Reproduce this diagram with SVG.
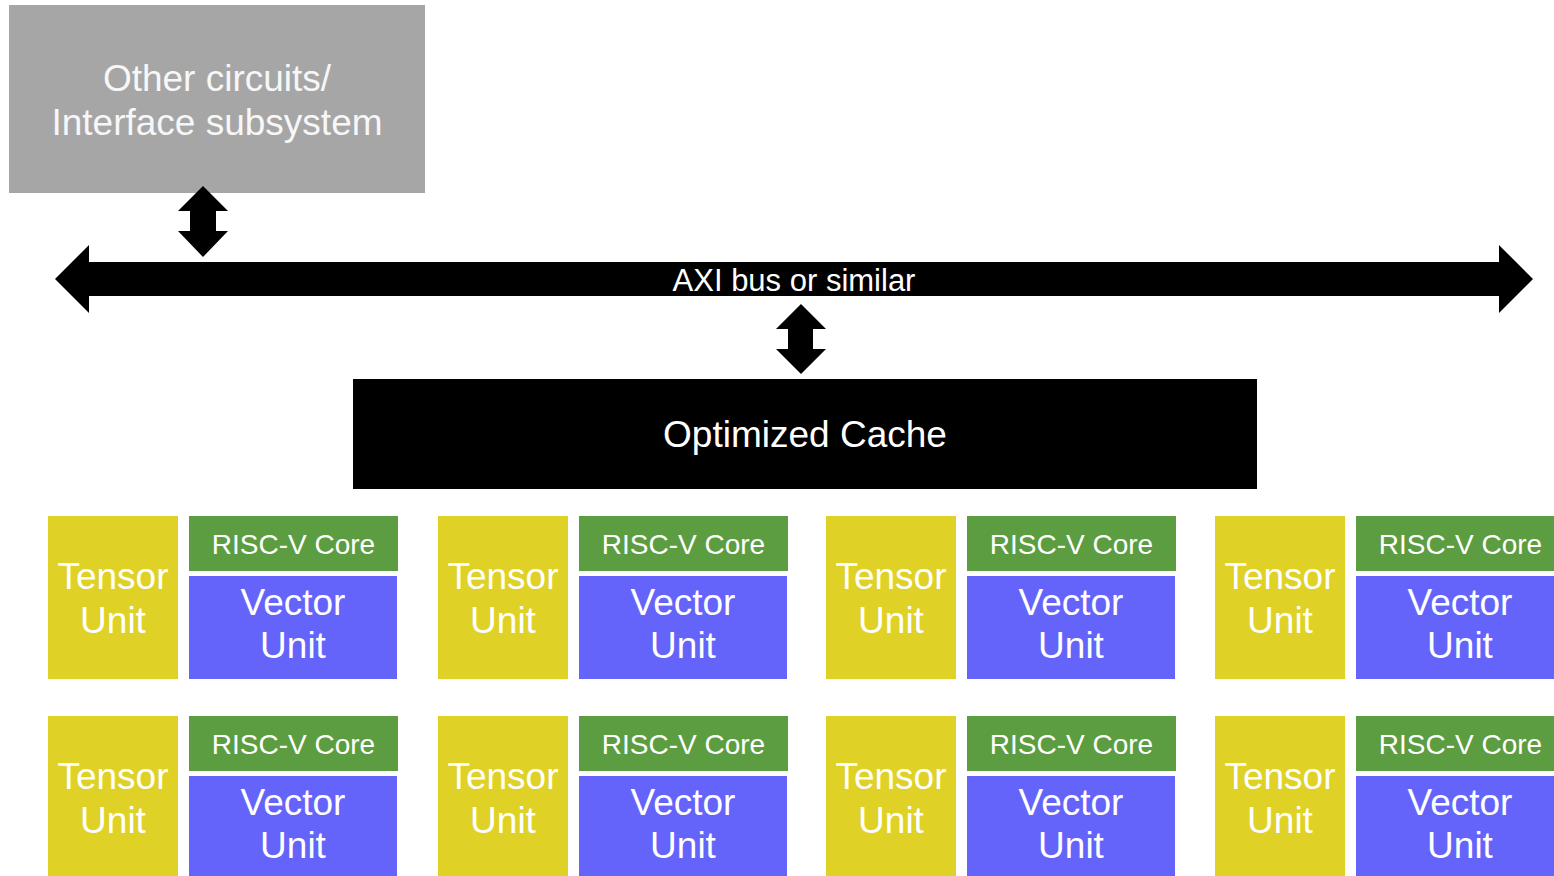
<svg xmlns="http://www.w3.org/2000/svg" width="1554" height="876" viewBox="0 0 1554 876">
  <style>
    text { font-family: "Liberation Sans", Arial, sans-serif; text-anchor: middle; fill: #FFFFFF; }
    .iface { fill: #A6A6A6; }
    .iface-t { fill: #F7F7F7; font-size: 37px; }
    .cache { fill: #000000; }
    .cache-t { font-size: 37px; }
    .bus-t { font-size: 31px; }
    .tensor { fill: #E0D126; }
    .core { fill: #5B9D40; }
    .vector { fill: #6464FB; }
    .big { font-size: 37px; }
    .small { font-size: 28px; }
    .conn { fill: #000000; }
  </style>
  <defs>
    <!-- one compute tile: tensor unit + RISC-V core + vector unit -->
    <g id="tile">
      <rect class="tensor" x="0" y="0" width="130" height="163"/>
      <text class="big" x="65" y="73">Tensor</text>
      <text class="big" x="65" y="117">Unit</text>
      <rect class="core" x="141" y="0" width="209" height="55"/>
      <text class="small" x="245.5" y="38">RISC-V Core</text>
      <rect class="vector" x="141" y="60" width="208" height="103"/>
      <text class="big" x="245" y="99">Vector</text>
      <text class="big" x="245" y="142">Unit</text>
    </g>
  </defs>

  <g id="interface-subsystem">
    <rect class="iface" x="9" y="5" width="416" height="188"/>
    <text class="iface-t" x="217" y="91">Other circuits/</text>
    <text class="iface-t" x="217" y="135">Interface subsystem</text>
  </g>

  <g id="connectors">
    <polygon class="conn" points="203,186 228,211 216,211 216,231 228,231 203,257 178,231 190,231 190,211 178,211"/>
    <polygon class="conn" points="801,304 826,329 813,329 813,349 826,349 801,374 776,349 788,349 788,329 776,329"/>
  </g>

  <g id="axi-bus">
    <polygon class="conn" points="55,279 89,245 89,262 1499,262 1499,245 1533,279 1499,313 1499,296 89,296 89,313"/>
    <text class="bus-t" x="794" y="291">AXI bus or similar</text>
  </g>

  <g id="optimized-cache">
    <rect class="cache" x="353" y="379" width="904" height="110"/>
    <text class="cache-t" x="805" y="447">Optimized Cache</text>
  </g>

  <g id="tile-r1-c1"><use href="#tile" x="48" y="516"/></g>
  <g id="tile-r1-c2"><use href="#tile" x="438" y="516"/></g>
  <g id="tile-r1-c3"><use href="#tile" x="826" y="516"/></g>
  <g id="tile-r1-c4"><use href="#tile" x="1215" y="516"/></g>
  <g id="tile-r2-c1"><use href="#tile" x="48" y="716"/></g>
  <g id="tile-r2-c2"><use href="#tile" x="438" y="716"/></g>
  <g id="tile-r2-c3"><use href="#tile" x="826" y="716"/></g>
  <g id="tile-r2-c4"><use href="#tile" x="1215" y="716"/></g>
</svg>
